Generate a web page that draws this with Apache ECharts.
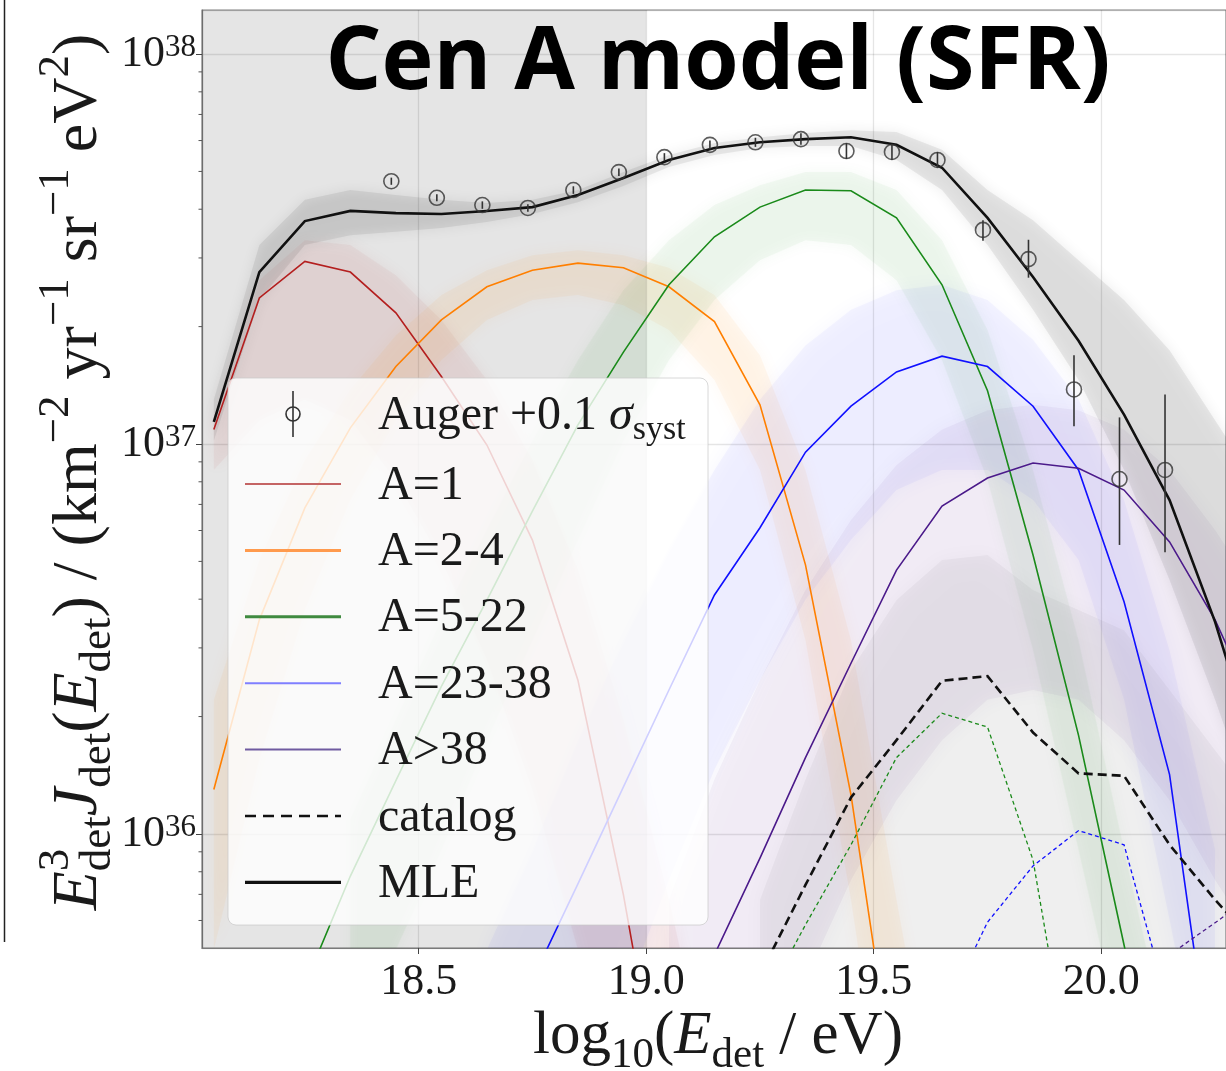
<!DOCTYPE html>
<html>
<head>
<meta charset="utf-8">
<script src="https://cdn.jsdelivr.net/npm/echarts@6/dist/echarts.min.js"></script>
<style>
html,body{margin:0;padding:0;background:#fff;}
#c{width:1226px;height:1071px;}
</style>
</head>
<body>
<div id="c"></div>
<script>
// ---------------- data ----------------
const energies = [18.05,18.15,18.25,18.35,18.45,18.55,18.65,18.75,18.85,18.95,19.05,19.15,19.25,19.35,19.45,19.55,19.65,19.75,19.85,19.95,20.05,20.15,20.25,20.35];

// MLE curves (E^3 J in km^-2 yr^-1 sr^-1 eV^2)
const mleTotal = [1.14e37,2.76e37,3.73e37,3.96e37,3.91e37,3.89e37,3.96e37,4.05e37,4.35e37,4.81e37,5.35e37,5.74e37,5.94e37,6.05e37,6.12e37,5.85e37,5.11e37,3.80e37,2.68e37,1.84e37,1.19e37,7.18e36,3.50e36,1.46e36];
const mleA1 = [1.09e37,2.37e37,2.94e37,2.76e37,2.17e37,1.49e37,9.94e36,5.67e36,2.48e36,6.98e35,1.55e35,null,null,null,null,null,null,null,null,null,null,null,null,null];
const mleA2to4 = [1.30e36,3.54e36,6.86e36,1.10e37,1.58e37,2.08e37,2.53e37,2.79e37,2.91e37,2.83e37,2.53e37,2.06e37,1.26e37,4.90e36,1.26e36,2.08e35,null,null,null,null,null,null,null,null];
const mleA5to22 = [null,null,4.10e35,7.80e35,1.37e36,2.39e36,3.98e36,6.73e36,1.12e37,1.72e37,2.56e37,3.40e37,4.05e37,4.48e37,4.46e37,3.80e37,2.56e37,1.37e37,5.19e36,1.79e36,5.19e35,1.55e35,null,null];
const mleA23to38 = [null,null,null,null,null,null,null,4.23e35,7.45e35,1.32e36,2.34e36,4.10e36,6.10e36,9.53e36,1.25e37,1.53e37,1.68e37,1.58e37,1.25e37,8.58e36,3.94e36,1.42e36,2.08e35,null];
const mleA38 = [null,null,null,null,null,null,null,null,null,null,null,4.90e35,8.67e35,1.57e36,2.74e36,4.75e36,6.93e36,8.18e36,8.94e36,8.67e36,7.62e36,5.61e36,3.54e36,1.96e36];

// catalog curves (dashed)
const catTotal = [null,null,null,null,null,null,null,null,null,null,null,null,4.35e35,7.40e35,1.24e36,1.74e36,2.47e36,2.54e36,1.82e36,1.43e36,1.41e36,9.38e35,6.78e35,5.05e35];
const catA5to22 = [null,null,null,null,null,null,null,null,null,null,null,null,3.54e35,5.85e35,9.38e35,1.57e36,2.04e36,1.88e36,8.57e35,1.80e35,null,null,null,null];
const catA23to38 = [null,null,null,null,null,null,null,null,null,null,null,null,null,null,null,null,3.40e35,5.94e35,8.28e35,1.02e36,9.38e35,3.54e35,null,null];
const catA38 = [null,null,null,null,null,null,null,null,null,null,null,null,null,null,null,null,null,null,null,null,3.75e35,4.90e35,5.92e35,7.18e35];

// spread of the posterior samples (lower / upper envelopes)
const totalLo = [1.02e37,2.34e37,3.24e37,3.43e37,3.50e37,3.58e37,3.71e37,3.89e37,4.17e37,4.59e37,5.13e37,5.51e37,5.74e37,5.81e37,5.81e37,5.35e37,4.48e37,3.24e37,2.21e37,1.46e37,8.58e36,4.48e36,2.21e36,1.02e36];
const totalHi = [1.30e37,3.24e37,4.23e37,4.48e37,4.35e37,4.23e37,4.15e37,4.23e37,4.48e37,4.98e37,5.51e37,5.91e37,6.12e37,6.27e37,6.38e37,6.31e37,5.68e37,4.48e37,3.75e37,2.96e37,2.34e37,1.74e37,1.15e37,7.62e36];
const catLo = [null,null,null,null,null,null,null,null,null,null,null,null,1.6e35,1.8e35,2.1e35,2.4e35,2.7e35,2.7e35,2.5e35,2.3e35,2.1e35,1.9e35,1.7e35,1.5e35];
const catHi = [null,null,null,null,null,null,null,null,null,null,null,null,6.78e35,1.38e36,2.63e36,3.98e36,5.04e36,5.19e36,4.22e36,3.75e36,3.33e36,2.34e36,1.64e36,1.15e36];
const a1Lo = [8.58e36,1.15e37,1.30e37,1.15e37,8.09e36,5.04e36,2.79e36,1.30e36,5.05e35,1.55e35,6.38e34,2.64e34,null,null,null,null,null,null,null,null,null,null,null,null];
const a1Hi = [1.15e37,2.63e37,3.33e37,3.24e37,2.71e37,2.08e37,1.46e37,9.10e36,4.75e36,1.96e36,6.78e35,2.08e35,null,null,null,null,null,null,null,null,null,null,null,null];
const a2Lo = [5.05e35,1.55e36,3.75e36,7.18e36,1.15e37,1.64e37,2.08e37,2.34e37,2.41e37,2.27e37,1.96e37,1.46e37,8.58e36,3.14e36,6.78e35,1.15e35,2.64e34,null,null,null,null,null,null,null];
const a2Hi = [2.21e36,5.04e36,9.10e36,1.38e37,1.90e37,2.41e37,2.79e37,3.05e37,3.14e37,3.05e37,2.83e37,2.41e37,1.69e37,8.58e36,3.14e36,6.78e35,1.55e35,null,null,null,null,null,null,null];
const a5Lo = [null,null,null,2.79e35,5.05e35,9.10e35,1.74e36,3.14e36,5.67e36,1.02e37,1.64e37,2.34e37,2.96e37,3.33e37,3.24e37,2.63e37,1.64e37,8.09e36,2.96e36,9.10e35,2.79e35,8.0e34,null,null];
const a5Hi = [null,null,null,1.09e36,1.96e36,3.54e36,6.02e36,1.02e37,1.64e37,2.48e37,3.33e37,4.10e37,4.61e37,4.98e37,4.98e37,4.48e37,3.33e37,1.96e37,8.58e36,3.14e36,9.10e35,2.79e35,null,null];
const a23Lo = [null,null,null,null,null,null,1.0e35,1.5e35,2.5e35,3.75e35,7.62e35,1.46e36,2.48e36,3.98e36,5.67e36,7.62e36,8.58e36,8.58e36,7.18e36,5.04e36,2.21e36,6.02e35,1.55e35,null];
const a23Hi = [null,null,null,null,null,null,5.05e35,9.10e35,1.74e36,3.14e36,5.35e36,8.58e36,1.30e37,1.79e37,2.21e37,2.48e37,2.56e37,2.34e37,1.85e37,1.30e37,7.18e36,2.96e36,9.10e35,null];
const a38Lo = [null,null,null,null,null,null,null,null,null,null,1.0e35,1.5e35,2.5e35,4.23e35,7.62e35,1.22e36,1.74e36,2.21e36,2.34e36,2.21e36,1.74e36,1.22e36,7.62e35,5.05e35];
const a38Hi = [null,null,null,null,null,null,null,null,null,null,6.78e35,1.38e36,2.48e36,4.22e36,6.38e36,8.83e36,1.09e37,1.22e37,1.26e37,1.22e37,1.09e37,8.58e36,6.02e36,3.98e36];

// Auger data (+0.1 sigma_syst)
const augerE = [18.44,18.54,18.64,18.74,18.84,18.94,19.04,19.14,19.24,19.34,19.44,19.54,19.64,19.74,19.84,19.94,20.04,20.14];
const augerFlux = [4.72e37,4.28e37,4.10e37,4.03e37,4.48e37,4.98e37,5.44e37,5.85e37,5.94e37,6.05e37,5.64e37,5.61e37,5.35e37,3.54e37,2.98e37,1.38e37,8.13e36,8.58e36];
const augerLo = [4.62e37,4.19e37,4.01e37,3.94e37,4.38e37,4.87e37,5.31e37,5.70e37,5.78e37,5.85e37,5.38e37,5.35e37,5.11e37,3.32e37,2.67e37,1.11e37,5.51e36,5.28e36];
const augerHi = [4.82e37,4.37e37,4.19e37,4.12e37,4.58e37,5.09e37,5.57e37,6.00e37,6.10e37,6.26e37,5.91e37,5.88e37,5.61e37,3.75e37,3.34e37,1.69e37,1.17e37,1.34e37];

// axis
const xTickLabels = [18.5, 19.0, 19.5, 20.0];
const yMinorTicks = [6e35,7e35,8e35,9e35,2e36,3e36,4e36,5e36,6e36,7e36,8e36,9e36,2e37,3e37,4e37,5e37,6e37,7e37,8e37,9e37];
const xMin = 18.024, xMax = 20.274;
const yMin = 5.10e35, yMax = 1.297e38;
const shadeRange = [18.024, 19.0];

const legendLabels = ['A=1','A=2-4','A=5-22','A=23-38','A>38','catalog','MLE'];

// ---------------- helpers ----------------
const SERIF = '"Liberation Serif", "Times New Roman", serif';
const INK = '#1a1a1a';

function pairs(arr) {
  return energies.map((x, i) => [x, arr[i]]).filter(p => p[1] != null);
}
function lineSeries(name, arr, color, width, dash, z) {
  return {
    type: 'line', name: name, data: pairs(arr), symbol: 'none', showSymbol: false,
    silent: true, clip: true, z: z,
    lineStyle: { color: color, width: width, type: dash || 'solid', cap: 'butt', join: 'miter' }
  };
}
function bandSeries(name, lo, hi, color, opacity, blur) {
  const pts = energies.map((x, i) => [x, lo[i], hi[i]]).filter(p => p[1] != null && p[2] != null);
  return {
    type: 'custom', name: name, data: pts, clip: true, silent: true, z: 1,
    encode: { x: 0, y: [1, 2] },
    renderItem: function (params, api) {
      if (params.dataIndex !== 0) return null;
      const top = pts.map(p => api.coord([p[0], p[2]]));
      const bot = pts.map(p => api.coord([p[0], p[1]])).reverse();
      return { type: 'polygon', shape: { points: top.concat(bot) },
        style: { fill: color, opacity: opacity, shadowBlur: blur, shadowColor: color } };
    }
  };
}

const mctx = document.createElement('canvas').getContext('2d');
function measure(t, size, it) {
  mctx.font = (it ? 'italic ' : '') + size + 'px ' + SERIF;
  return mctx.measureText(t).width;
}
function mathGroup(segs, S, opt) {
  let x = 0, segStart = 0;
  const kids = [];
  segs.forEach(g => {
    const small = g.sub || g.sup;
    const size = small ? Math.round(S * 0.7) : S;
    const start = g.stack ? segStart : x;
    const w = measure(g.t, size, g.it);
    const dy = g.sub ? S * 0.30 : (g.sup ? -S * 0.36 : 0);
    kids.push({
      type: 'text', x: start, y: dy, z: 60,
      style: {
        text: g.t, font: (g.it ? 'italic ' : '') + size + 'px ' + SERIF, fill: INK,
        align: 'left', verticalAlign: 'middle', textAlign: 'left', textVerticalAlign: 'middle'
      }
    });
    if (g.stack) { x = Math.max(x, start + w); }
    else { segStart = start; x = start + w; }
  });
  if (opt.center) kids.forEach(k => { k.x -= x / 2; });
  return { type: 'group', x: opt.x, y: opt.y, rotation: opt.rotation || 0, children: kids, z: 60 };
}

// ---------------- chart ----------------
const chart = echarts.init(document.getElementById('c'), null, { renderer: 'canvas', width: 1226, height: 1071 });

const legendColors = ['#c46464', '#ff9a4d', '#3f8a3f', '#7f7fff', '#6f5aa0', '#111', '#111'];
const legendWidths = [2, 3, 3, 2, 2, 2.6, 3.2];
const legendDash = [null, null, null, null, null, [11, 7], null];
const legendY0 = 484, legendStep = 66.4;

const graphics = [];
// cut-off neighbouring panel edge
graphics.push({ type: 'line', shape: { x1: 4.5, y1: 0, x2: 4.5, y2: 942 }, style: { stroke: '#222', lineWidth: 1.5 }, z: 30 });
// legend box
graphics.push({ type: 'rect', shape: { x: 228, y: 378, width: 480, height: 547, r: 8 },
  style: { fill: 'rgba(255,255,255,0.8)', stroke: 'rgba(200,200,200,0.7)', lineWidth: 1 }, z: 40 });
graphics.push({ type: 'line', shape: { x1: 293, y1: 391, x2: 293, y2: 437 }, style: { stroke: '#333', lineWidth: 1.6 }, z: 41 });
graphics.push({ type: 'circle', shape: { cx: 293, cy: 414, r: 7 }, style: { fill: 'rgba(0,0,0,0)', stroke: '#333', lineWidth: 1.6 }, z: 41 });
graphics.push(mathGroup([{ t: 'Auger +0.1 ' }, { t: 'σ', it: true }, { t: 'syst', sub: true }], 48, { x: 378, y: 416 }));
legendLabels.forEach((lab, i) => {
  const y = legendY0 + i * legendStep;
  graphics.push({ type: 'line', shape: { x1: 245, y1: y, x2: 341, y2: y },
    style: { stroke: legendColors[i], lineWidth: legendWidths[i], lineDash: legendDash[i] }, z: 41 });
  graphics.push({ type: 'text', x: 378, y: y + 2, z: 41,
    style: { text: lab, font: '48px ' + SERIF, fill: INK, align: 'left', verticalAlign: 'middle', textAlign: 'left', textVerticalAlign: 'middle' } });
});
// title
graphics.push({ type: 'text', x: 718, y: 64, z: 70,
  style: { text: 'Cen A model (SFR)', font: 'bold 88px "Open Sans"', fill: '#000', align: 'center', verticalAlign: 'middle', textAlign: 'center', textVerticalAlign: 'middle' } });
// axis titles
graphics.push(mathGroup([{ t: 'log' }, { t: '10', sub: true }, { t: '(' }, { t: 'E', it: true }, { t: 'det', sub: true }, { t: ' / eV)' }], 61, { x: 718, y: 1037, center: true }));
graphics.push(mathGroup([
  { t: 'E', it: true }, { t: '3', sup: true }, { t: 'det', sub: true, stack: true },
  { t: 'J', it: true }, { t: 'det', sub: true }, { t: '(' }, { t: 'E', it: true }, { t: 'det', sub: true }, { t: ')' },
  { t: ' / (km' }, { t: '−2', sup: true }, { t: ' yr' }, { t: '−1', sup: true }, { t: ' sr' }, { t: '−1', sup: true },
  { t: ' eV' }, { t: '2', sup: true }, { t: ')' }
], 64, { x: 79, y: 472, center: true, rotation: Math.PI / 2 }));

const series = [
  { type: 'line', name: 'shade', data: [], silent: true, z: 0,
    markArea: { silent: true, itemStyle: { color: 'rgba(0,0,0,0.1)' }, data: [[{ xAxis: shadeRange[0] }, { xAxis: shadeRange[1] }]] } },
  bandSeries('catalog samples', catLo, catHi, '#000', 0.03, 20),
  bandSeries('A=1 samples', a1Lo, a1Hi, '#b22222', 0.05, 16),
  bandSeries('A=2-4 samples', a2Lo, a2Hi, '#ff8c00', 0.05, 16),
  bandSeries('A=5-22 samples', a5Lo, a5Hi, '#228b22', 0.045, 16),
  bandSeries('A=23-38 samples', a23Lo, a23Hi, '#0000ff', 0.035, 20),
  bandSeries('A>38 samples', a38Lo, a38Hi, '#4b0082', 0.04, 20),
  bandSeries('total samples', totalLo, totalHi, '#000', 0.07, 14),
  lineSeries('A=1', mleA1, '#b41f1f', 1.6, null, 3),
  lineSeries('A=2-4', mleA2to4, '#ff7f00', 1.6, null, 3),
  lineSeries('A=5-22', mleA5to22, '#1a8a1a', 1.6, null, 3),
  lineSeries('A=23-38', mleA23to38, '#1010ff', 1.6, null, 3),
  lineSeries('A>38', mleA38, '#4b1a8a', 1.6, null, 3),
  lineSeries('catalog A=5-22', catA5to22, '#1a8a1a', 1.3, [4, 3], 3),
  lineSeries('catalog A=23-38', catA23to38, '#1010ff', 1.3, [4, 3], 3),
  lineSeries('catalog A>38', catA38, '#4b1a8a', 1.3, [4, 3], 3),
  lineSeries('catalog', catTotal, '#111', 2.6, [9, 5], 4),
  lineSeries('MLE', mleTotal, '#111', 2.6, null, 4),
  { type: 'custom', name: 'Auger errors', silent: true, clip: true, z: 5,
    data: augerE.map((x, i) => [x, augerLo[i], augerHi[i]]),
    encode: { x: 0, y: [1, 2] },
    renderItem: function (params, api) {
      const a = api.coord([api.value(0), api.value(1)]);
      const b = api.coord([api.value(0), api.value(2)]);
      return { type: 'line', shape: { x1: a[0], y1: a[1], x2: b[0], y2: b[1] }, style: { stroke: '#333', lineWidth: 1.6 } };
    } },
  { type: 'scatter', name: 'Auger +0.1 σsyst', silent: true, z: 6,
    data: augerE.map((x, i) => [x, augerFlux[i]]),
    symbol: 'circle', symbolSize: 15,
    itemStyle: { color: 'rgba(0,0,0,0)', borderColor: '#333', borderWidth: 1.6 } },
  { type: 'custom', name: 'minor ticks', silent: true, clip: false, z: 6,
    data: yMinorTicks.map(v => [xMin, v]),
    encode: { x: 0, y: 1 },
    renderItem: function (params, api) {
      const p = api.coord([api.value(0), api.value(1)]);
      return { type: 'line', shape: { x1: p[0] - 3.5, y1: p[1], x2: p[0], y2: p[1] }, style: { stroke: '#555', lineWidth: 1 } };
    } }
];

const option = {
  animation: false,
  backgroundColor: '#ffffff',
  grid: { left: 202, top: 10, right: -2, bottom: 123, show: true, borderColor: '#8a8a8a', borderWidth: 1.2, backgroundColor: 'rgba(0,0,0,0)' },
  xAxis: {
    type: 'value', min: xMin, max: xMax,
    axisLine: { show: true, lineStyle: { color: '#7a7a7a', width: 1.2 } },
    axisTick: { show: true, length: 6, lineStyle: { color: '#444', width: 1 } },
    axisLabel: {
      fontFamily: SERIF, fontSize: 44, color: INK, margin: 12, showMinLabel: false, showMaxLabel: false,
      formatter: function (v) {
        const hit = xTickLabels.find(t => Math.abs(t - v) < 1e-6);
        return hit == null ? '' : hit.toFixed(1);
      }
    },
    splitLine: { show: true, lineStyle: { color: 'rgba(0,0,0,0.1)', width: 1.3 } }
  },
  yAxis: {
    type: 'log', logBase: 10, min: yMin, max: yMax,
    axisLine: { show: true, lineStyle: { color: '#7a7a7a', width: 1.2 } },
    axisTick: { show: true, length: 6, lineStyle: { color: '#444', width: 1 } },
    axisLabel: {
      margin: 6, showMinLabel: false, showMaxLabel: false,
      formatter: function (v) {
        const e = Math.round(Math.log10(v));
        if (Math.abs(Math.log10(v) - e) > 1e-6) return '';
        return '{b|10}{s|' + e + '}';
      },
      rich: {
        b: { fontFamily: SERIF, fontSize: 44, color: INK, lineHeight: 44, verticalAlign: 'bottom' },
        s: { fontFamily: SERIF, fontSize: 31, color: INK, lineHeight: 31, verticalAlign: 'top', padding: [0, 0, 24, 0] }
      }
    },
    splitLine: { show: true, lineStyle: { color: 'rgba(0,0,0,0.1)', width: 1.3 } }
  },
  series: series,
  graphic: { elements: graphics }
};
chart.setOption(option);
</script>
</body>
</html>
